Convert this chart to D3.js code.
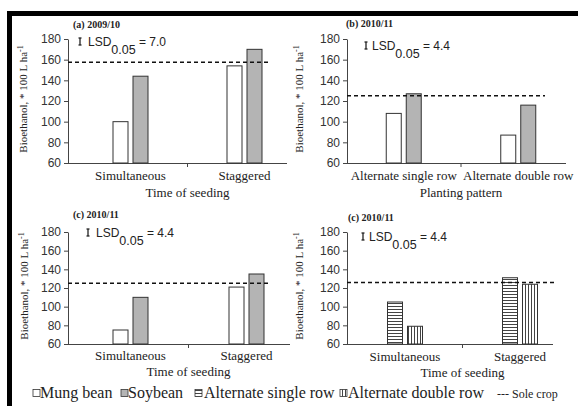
<!DOCTYPE html>
<html><head><meta charset="utf-8">
<script src="https://cdn.jsdelivr.net/npm/d3@7"></script>
<style>
body{margin:0;background:#fff;}
svg{display:block;}
</style></head>
<body>
<svg id="chart" width="578" height="406"></svg>
<script>
// ---------- data ----------
const categoriesTime = ["Simultaneous", "Staggered"];
const categoriesPattern = ["Alternate single row", "Alternate double row"];
const seriesNames = ["Mung bean", "Soybean", "Alternate single row", "Alternate double row"];
const yTicks = [60, 80, 100, 120, 140, 160, 180];

const mungA = [100, 154];
const soyA = [144, 170];
const soleA = 157.5;

const mungB = [108, 87];
const soyB = [127, 116];
const soleB = 125;

const mungC = [75, 121];
const soyC = [110, 135];
const soleC = 125;

const singleRowD = [105, 131];
const doubleRowD = [79, 124];
const soleD = 126;

const panelTitles = ["(a) 2009/10", "(b) 2010/11", "(c) 2010/11", "(c) 2010/11"];
const lsdValues = ["7.0", "4.4", "4.4", "4.4"];
const xTitles = ["Time of seeding", "Planting pattern", "Time of seeding", "Time of seeding"];

// ---------- layout ----------
const layout = [
  {ax:68, top:39, bottom:163, bandStart:73.5, step:114, axEnd:287, dashEnd:270, tx:73, ty:28, gx:80, lx:88, ly:46, ytx:27, caty:180, xty:197},
  {ax:347, top:39, bottom:163, bandStart:346.5, step:114.5, axEnd:566, dashEnd:545, tx:346, ty:27, gx:366, lx:372, ly:50, ytx:303, caty:180, xty:197},
  {ax:68, top:232, bottom:344, bandStart:72.5, step:116, axEnd:290, dashEnd:268, tx:73, ty:218, gx:88, lx:96, ly:237, ytx:28, caty:360, xty:376},
  {ax:347, top:232, bottom:344, bandStart:347.5, step:115, axEnd:553, dashEnd:555, tx:348, ty:221, gx:363, lx:369, ly:241, ytx:303, caty:361, xty:377}
];

const panels = [
  {cats: categoriesTime, series: [{name: seriesNames[0], values: mungA}, {name: seriesNames[1], values: soyA}], sole: soleA},
  {cats: categoriesPattern, series: [{name: seriesNames[0], values: mungB}, {name: seriesNames[1], values: soyB}], sole: soleB},
  {cats: categoriesTime, series: [{name: seriesNames[0], values: mungC}, {name: seriesNames[1], values: soyC}], sole: soleC},
  {cats: categoriesTime, series: [{name: seriesNames[2], values: singleRowD}, {name: seriesNames[3], values: doubleRowD}], sole: soleD}
];

const fills = {
  "Mung bean": "#ffffff",
  "Soybean": "#b4b4b4",
  "Alternate single row": "url(#hstripe)",
  "Alternate double row": "url(#vstripe)"
};

const svg = d3.select("#chart");
const defs = svg.append("defs");
const hp = defs.append("pattern").attr("id", "hstripe").attr("patternUnits", "userSpaceOnUse").attr("width", 4).attr("height", 3);
hp.append("rect").attr("width", 4).attr("height", 3).attr("fill", "#fff");
hp.append("line").attr("x1", 0).attr("x2", 4).attr("y1", 0.5).attr("y2", 0.5).attr("stroke", "#444").attr("stroke-width", 1);
const vp = defs.append("pattern").attr("id", "vstripe").attr("patternUnits", "userSpaceOnUse").attr("width", 3).attr("height", 4);
vp.append("rect").attr("width", 3).attr("height", 4).attr("fill", "#fff");
vp.append("line").attr("y1", 0).attr("y2", 4).attr("x1", 0.5).attr("x2", 0.5).attr("stroke", "#444").attr("stroke-width", 1);

svg.append("rect").attr("width", 578).attr("height", 406).attr("fill", "#fff");

// black frame (top + left)
svg.append("rect").attr("x", 7).attr("y", 11).attr("width", 571).attr("height", 5).attr("fill", "#000");
svg.append("rect").attr("x", 7).attr("y", 11).attr("width", 5).attr("height", 395).attr("fill", "#000");

panels.forEach((p, i) => {
  const L = layout[i];
  const g = svg.append("g");
  const y = d3.scaleLinear().domain([60, 180]).range([L.bottom, L.top]);
  const x = d3.scaleBand().domain(p.cats).range([L.bandStart, L.bandStart + L.step * p.cats.length]).padding(0);
  const x1 = d3.scaleBand().domain(p.series.map(s => s.name)).range([-17.5, 17.5]).paddingInner(0.25);

  // y axis
  const yAxis = g.append("g").attr("transform", `translate(${L.ax},0)`)
    .call(d3.axisLeft(y).tickValues(yTicks).tickSize(4).tickPadding(3).tickSizeOuter(0));
  yAxis.select(".domain").attr("stroke", "#444");
  yAxis.selectAll(".tick line").attr("stroke", "#444");
  yAxis.selectAll("text").attr("font-family", "Liberation Sans, Arial, sans-serif").attr("font-size", 12).attr("fill", "#333");

  // x axis line + mid tick
  g.append("line").attr("x1", L.ax).attr("x2", L.axEnd).attr("y1", L.bottom + 0.5).attr("y2", L.bottom + 0.5).attr("stroke", "#444");
  const mid = x(p.cats[1]);
  g.append("line").attr("x1", mid).attr("x2", mid).attr("y1", L.bottom).attr("y2", L.bottom + 4).attr("stroke", "#444");

  // bars
  p.series.forEach(s => {
    g.selectAll(null).data(p.cats).enter().append("rect")
      .attr("x", (c) => x(c) + x.bandwidth() / 2 + x1(s.name))
      .attr("width", x1.bandwidth())
      .attr("y", (c, j) => y(s.values[j]))
      .attr("height", (c, j) => L.bottom - y(s.values[j]))
      .attr("fill", fills[s.name])
      .attr("stroke", "#333").attr("stroke-width", 1);
  });

  // sole crop dashed line
  g.append("line").attr("x1", L.ax).attr("x2", L.dashEnd)
    .attr("y1", y(p.sole)).attr("y2", y(p.sole))
    .attr("stroke", "#111").attr("stroke-width", 1.5).attr("stroke-dasharray", "4,3");

  // category labels
  g.selectAll(null).data(p.cats).enter().append("text")
    .attr("x", c => x(c) + x.bandwidth() / 2).attr("y", L.caty)
    .attr("text-anchor", "middle").attr("font-family", "Liberation Serif, Times New Roman, serif")
    .attr("font-size", 13).attr("fill", "#222").text(c => c);

  // x title
  g.append("text").attr("x", mid).attr("y", L.xty).attr("text-anchor", "middle")
    .attr("font-family", "Liberation Serif, Times New Roman, serif").attr("font-size", 13).attr("fill", "#222")
    .text(xTitles[i]);

  // panel title
  g.append("text").attr("x", L.tx).attr("y", L.ty)
    .attr("font-family", "Liberation Serif, Times New Roman, serif").attr("font-size", 10).attr("font-weight", "bold").attr("fill", "#222")
    .text(panelTitles[i]);

  // y title
  const yc = (L.top + L.bottom) / 2 - 2;
  const yt = g.append("text").attr("transform", `translate(${L.ytx},${yc}) rotate(-90)`)
    .attr("text-anchor", "middle").attr("font-family", "Liberation Serif, Times New Roman, serif")
    .attr("font-size", 11).attr("fill", "#222");
  yt.append("tspan").text("Bioethanol, * 100 L ha");
  yt.append("tspan").attr("dy", -4).attr("font-size", 8).text("-1");

  // LSD glyph
  const gy = L.ly - 4;
  g.append("line").attr("x1", L.gx).attr("x2", L.gx).attr("y1", gy - 4).attr("y2", gy + 3).attr("stroke", "#222").attr("stroke-width", 1.3);
  g.append("line").attr("x1", L.gx - 1.5).attr("x2", L.gx + 1.5).attr("y1", gy - 4).attr("y2", gy - 4).attr("stroke", "#222").attr("stroke-width", 1.3);
  g.append("line").attr("x1", L.gx - 1.5).attr("x2", L.gx + 1.5).attr("y1", gy + 3).attr("y2", gy + 3).attr("stroke", "#222").attr("stroke-width", 1.3);
  const lt = g.append("text").attr("x", L.lx).attr("y", L.ly)
    .attr("font-family", "Liberation Sans, Arial, sans-serif").attr("font-size", 12).attr("fill", "#222");
  lt.append("tspan").text("LSD");
  lt.append("tspan").attr("dy", 8).attr("font-size", 12.5).text("0.05");
  lt.append("tspan").attr("dy", -8).text(" = " + lsdValues[i]);
});

// ---------- legend ----------
const legendItems = [
  {name: seriesNames[0], sx: 33, tx: 40},
  {name: seriesNames[1], sx: 121, tx: 128},
  {name: seriesNames[2], sx: 195, tx: 204},
  {name: seriesNames[3], sx: 340, tx: 348}
];
const lg = svg.append("g");
legendItems.forEach(it => {
  lg.append("rect").attr("x", it.sx).attr("y", 389.5).attr("width", 7).attr("height", 7)
    .attr("fill", fills[it.name]).attr("stroke", "#333").attr("stroke-width", 0.8);
  lg.append("text").attr("x", it.tx).attr("y", 398)
    .attr("font-family", "Liberation Serif, Times New Roman, serif").attr("font-size", 16).attr("fill", "#222")
    .text(it.name);
});
lg.append("text").attr("x", 497).attr("y", 398)
  .attr("font-family", "Liberation Serif, Times New Roman, serif").attr("font-size", 12).attr("fill", "#222")
  .text("--- Sole crop");
</script>
</body></html>
